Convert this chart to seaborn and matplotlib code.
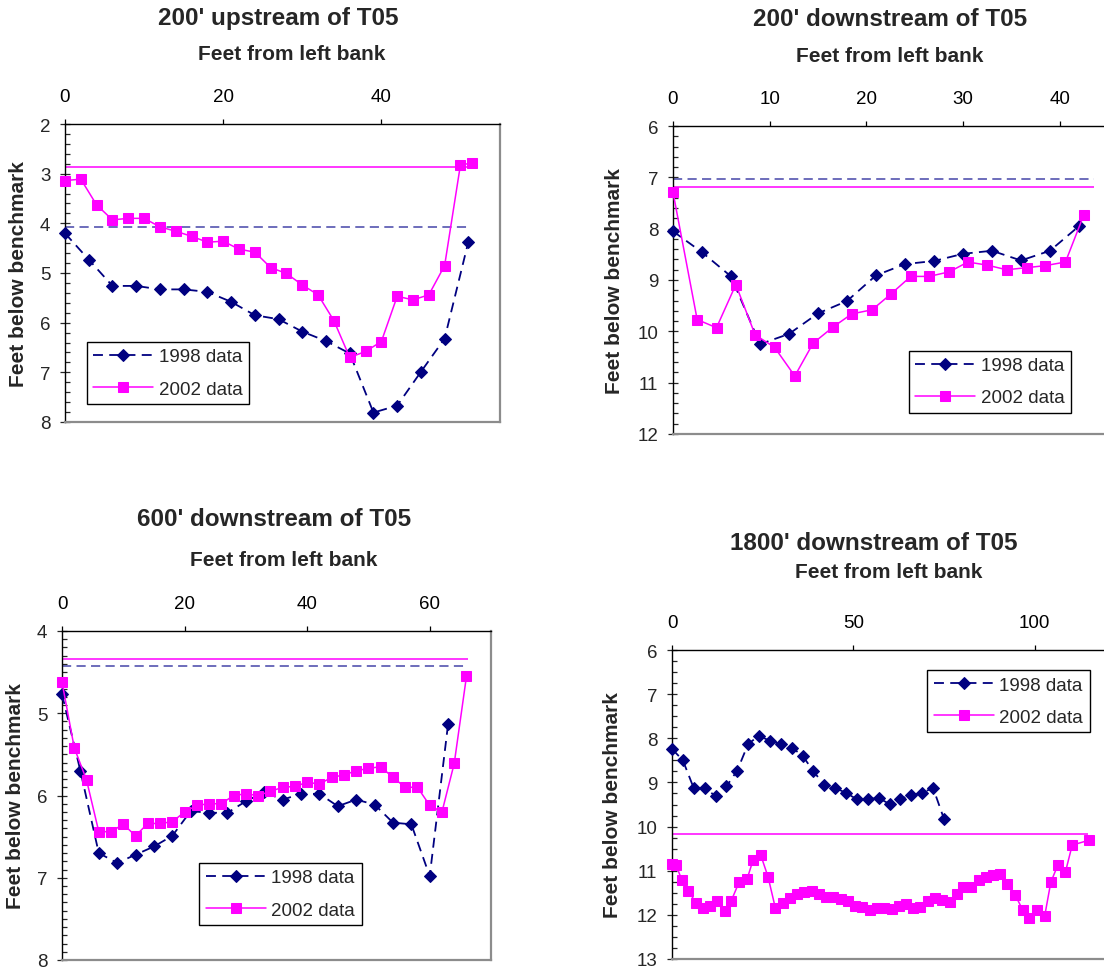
import matplotlib
matplotlib.use("Agg")
import matplotlib.pyplot as plt
from matplotlib.ticker import MultipleLocator
import seaborn as sns

# --- data (feet) ---
titles = ["200' upstream of T05", "200' downstream of T05",
          "600' downstream of T05", "1800' downstream of T05"]

# 200' upstream
x98_up200 = [0, 3, 6, 9, 12, 15, 18, 21, 24, 27, 30, 33, 36, 39, 42, 45, 48, 51]
y98_up200 = [4.20, 4.73, 5.26, 5.26, 5.33, 5.33, 5.38, 5.58, 5.85, 5.93, 6.18, 6.37,
             6.62, 7.81, 7.67, 6.99, 6.32, 4.37]
x02_up200 = [0, 2, 4, 6, 8, 10, 12, 14, 16, 18, 20, 22, 24, 26, 28, 30, 32, 34, 36,
             38, 40, 42, 44, 46, 48, 50, 51.5]
y02_up200 = [3.14, 3.11, 3.63, 3.93, 3.90, 3.90, 4.07, 4.16, 4.26, 4.38, 4.36, 4.52,
             4.58, 4.89, 5.01, 5.24, 5.44, 5.96, 6.70, 6.58, 6.38, 5.47, 5.54, 5.44,
             4.85, 2.82, 2.79]

# 200' downstream
x98_dn200 = [0, 3, 6, 9, 12, 15, 18, 21, 24, 27, 30, 33, 36, 39, 42]
y98_dn200 = [8.05, 8.46, 8.93, 10.25, 10.05, 9.65, 9.41, 8.91, 8.69, 8.63, 8.49, 8.43,
             8.62, 8.43, 7.95]
x02_dn200 = [0, 2.5, 4.5, 6.5, 8.5, 10.5, 12.6, 14.5, 16.6, 18.5, 20.6, 22.5, 24.6,
             26.5, 28.6, 30.5, 32.5, 34.5, 36.6, 38.5, 40.6, 42.5]
y02_dn200 = [7.29, 9.77, 9.93, 9.09, 10.07, 10.31, 10.87, 10.23, 9.91, 9.66, 9.58, 9.28,
             8.93, 8.93, 8.84, 8.65, 8.71, 8.80, 8.76, 8.72, 8.65, 7.73]

# 600' downstream
x98_dn600 = [0, 3, 6, 9, 12, 15, 18, 21, 24, 27, 30, 33, 36, 39, 42, 45, 48, 51, 54,
             57, 60, 63]
y98_dn600 = [4.77, 5.70, 6.70, 6.82, 6.72, 6.62, 6.49, 6.19, 6.21, 6.21, 6.07, 5.96,
             6.05, 5.98, 5.98, 6.13, 6.05, 6.11, 6.33, 6.35, 6.98, 5.13]
x02_dn600 = [0, 2, 4, 6, 8, 10, 12, 14, 16, 18, 20, 22, 24, 26, 28, 30, 32, 34, 36, 38,
             40, 42, 44, 46, 48, 50, 52, 54, 56, 58, 60, 62, 64, 66]
y02_dn600 = [4.62, 5.42, 5.81, 6.44, 6.44, 6.35, 6.49, 6.34, 6.34, 6.32, 6.20, 6.12,
             6.10, 6.10, 6.00, 5.98, 6.00, 5.95, 5.90, 5.89, 5.84, 5.86, 5.78, 5.75,
             5.70, 5.67, 5.65, 5.78, 5.90, 5.90, 6.12, 6.20, 5.61, 4.55]

# 1800' downstream
x98_dn1800 = [0, 3, 6, 9, 12, 15, 18, 21, 24, 27, 30, 33, 36, 39, 42, 45, 48, 51, 54,
              57, 60, 63, 66, 69, 72, 75]
y98_dn1800 = [8.24, 8.50, 9.13, 9.12, 9.31, 9.09, 8.73, 8.13, 7.94, 8.06, 8.13, 8.21,
              8.39, 8.75, 9.05, 9.12, 9.24, 9.38, 9.38, 9.35, 9.49, 9.38, 9.28, 9.24,
              9.12, 9.82]
x02_dn1800 = [0, 1, 2.7, 4.5, 6.6, 8.6, 10.6, 12.5, 14.7, 16.3, 18.5, 20.7, 22.4, 24.5,
              26.5, 28.5, 30.5, 32.5, 34.5, 36.5, 38.6, 40.5, 42.5, 44.4, 46.5, 48.6,
              50.6, 52.5, 54.5, 56.6, 58.6, 60.6, 62.5, 64.6, 66.6, 68.5, 70.6, 72.5,
              74.6, 76.6, 78.7, 80.4, 82.6, 84.6, 86.5, 88.6, 90.6, 92.5, 94.6, 96.7,
              98.6, 100.6, 102.8, 104.5, 106.5, 108.5, 110.4, 115]
y02_dn1800 = [10.84, 10.86, 11.20, 11.45, 11.73, 11.84, 11.81, 11.69, 11.91, 11.69,
              11.26, 11.19, 10.75, 10.65, 11.14, 11.84, 11.73, 11.62, 11.53, 11.49,
              11.47, 11.53, 11.59, 11.59, 11.65, 11.69, 11.81, 11.82, 11.90, 11.85,
              11.84, 11.86, 11.81, 11.76, 11.85, 11.82, 11.69, 11.61, 11.66, 11.70,
              11.53, 11.36, 11.36, 11.20, 11.14, 11.10, 11.07, 11.30, 11.54, 11.88,
              12.07, 11.88, 12.03, 11.26, 10.86, 11.04, 10.42, 10.31]

# water surface lines (level, end of line); None = not drawn
ws_1998 = [4.07, 7.04, 4.42, None]
ws_2002 = [2.87, 7.18, 4.34, 10.17]
ws_end = [51.2, 43.6, 66.3, 114.7]

xlims = [(0, 55), (0, 45), (0, 70), (0, 120)]
ylims = [(2, 8), (6, 12), (4, 8), (6, 13)]
xmajor = [20, 10, 20, 50]
yminor = [0.2, 0.2, 0.1, 0.25]

NAVY = "#000080"
MAGENTA = "#FF00FF"
WS98 = "#4545A8"
W, H = 1104, 970

sns.set_style("white")
plt.rcParams["font.family"] = ["Liberation Sans", "DejaVu Sans"]

fig = plt.figure(figsize=(W / 100, H / 100), dpi=100)

# axes boxes in pixels: left, top, right, bottom
boxes = [(65, 125, 500, 423), (673, 127, 1108, 435),
         (62, 632, 491, 961), (672, 651, 1107, 960)]
title_xy = [(278, 19), (890, 19), (274, 520), (874, 543)]
xlabel_xy = [(292, 55), (890, 57), (284, 561), (889, 573)]
ylabel_x = [19, 615, 16, 613]
legend_spec = [("lower left", (0.05, 0.06)), ("lower right", (0.915, 0.068)),
               ("lower left", (0.32, 0.106)), ("upper right", (0.96, 0.935))]

series = [
    (x98_up200, y98_up200, x02_up200, y02_up200),
    (x98_dn200, y98_dn200, x02_dn200, y02_dn200),
    (x98_dn600, y98_dn600, x02_dn600, y02_dn600),
    (x98_dn1800, y98_dn1800, x02_dn1800, y02_dn1800),
]

for i, (x98, y98, x02, y02) in enumerate(series):
    l, t, r, b = boxes[i]
    ax = fig.add_axes([l / W, 1 - b / H, (r - l) / W, (b - t) / H])

    # water surface lines
    if ws_1998[i] is not None:
        ax.hlines(ws_1998[i], 0, ws_end[i], colors=WS98, linewidth=1.1,
                  linestyles=(0, (6, 3.5)), zorder=2)
    ax.hlines(ws_2002[i], 0, ws_end[i], colors=MAGENTA, linewidth=1.1, zorder=2)

    sns.lineplot(x=x98, y=y98, ax=ax, sort=False, estimator=None, color=NAVY,
                 linewidth=1.3, linestyle=(0, (5.5, 3.5)), marker="D", markersize=6.4,
                 markeredgecolor=NAVY, markerfacecolor=NAVY, label="1998 data",
                 zorder=3, clip_on=False)
    sns.lineplot(x=x02, y=y02, ax=ax, sort=False, estimator=None, color=MAGENTA,
                 linewidth=1.1, marker="s", markersize=6.9, markeredgecolor=MAGENTA,
                 markerfacecolor=MAGENTA, label="2002 data", zorder=4, clip_on=False)

    ax.set_xlim(*xlims[i])
    ax.set_ylim(ylims[i][1], ylims[i][0])
    ax.xaxis.set_major_locator(MultipleLocator(xmajor[i]))
    ax.yaxis.set_major_locator(MultipleLocator(1))
    ax.yaxis.set_minor_locator(MultipleLocator(yminor[i]))

    ax.xaxis.tick_top()
    ax.xaxis.set_label_position("top")
    ax.tick_params(axis="x", which="major", direction="out", length=3.5, width=0.9,
                   pad=10, labelsize=13.5, colors="black", bottom=False, top=True)
    ax.tick_params(axis="y", which="major", direction="inout", length=7, width=0.9,
                   pad=7, labelsize=13.5, left=True)
    ax.tick_params(axis="y", which="minor", direction="in", length=3.5, width=0.9,
                   left=True)

    for side in ("top", "left"):
        ax.spines[side].set_color("black")
        ax.spines[side].set_linewidth(1.0)
    for side in ("right", "bottom"):
        ax.spines[side].set_color("#8c8c8c")
        ax.spines[side].set_linewidth(1.6)

    ax.set_xlabel("Feet from left bank", fontsize=15, fontweight="bold")
    xx, xy = xlabel_xy[i]
    ax.xaxis.set_label_coords((xx - l) / (r - l), 1 + (t - xy) / (b - t))
    ax.xaxis.label.set_va("center")
    ax.set_ylabel("Feet below benchmark", fontsize=15, fontweight="bold")
    ax.yaxis.set_label_coords((ylabel_x[i] - l) / (r - l), 0.5)
    ax.yaxis.label.set_va("center")

    tx, ty = title_xy[i]
    fig.text(tx / W, 1 - ty / H, titles[i], fontsize=17.5, fontweight="bold",
             ha="center", va="center")

    loc, anchor = legend_spec[i]
    leg = ax.legend(loc=loc, bbox_to_anchor=anchor, fontsize=13.5, frameon=True,
                    fancybox=False, framealpha=1, edgecolor="black",
                    handlelength=3.2, handletextpad=0.3, borderpad=0.35,
                    labelspacing=0.8, borderaxespad=0)
    leg.get_frame().set_linewidth(1.0)

fig.savefig("out.png", dpi=100)
